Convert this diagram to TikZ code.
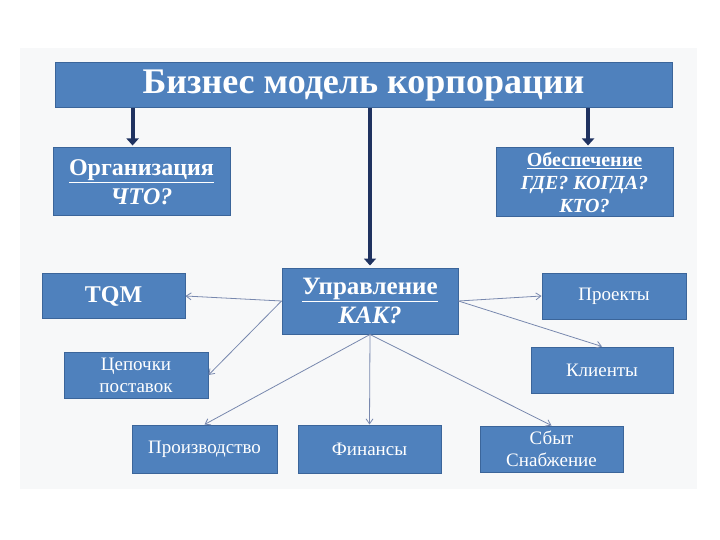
\documentclass[tikz,border=0pt]{standalone}
\usepackage{fontspec}
\setmainfont{Liberation Serif}
\usetikzlibrary{arrows.meta,calc}
\definecolor{boxblue}{HTML}{4F81BD}
\definecolor{boxedge}{HTML}{3B659A}
\definecolor{navy}{HTML}{1F3260}
\definecolor{thinarrow}{HTML}{7888AE}
\definecolor{bgpanel}{HTML}{F7F8F9}
\tikzset{
  bluebox/.style={draw=boxedge, line width=1pt, fill=boxblue, text=white, align=center, inner sep=1pt},
  smalltext/.style={font=\fontsize{19}{22}\selectfont},
  bigarrow/.style={draw=navy, line width=4pt, -{Triangle[length=7pt,width=12pt]}},
  smallarrow/.style={draw=thinarrow, line width=0.8pt, -{Straight Barb[length=5pt,width=7pt]}}
}
\begin{document}
\begin{tikzpicture}[x=1pt,y=-1pt]
\useasboundingbox (0,0) rectangle (720,540);
\fill[white] (0,0) rectangle (720,540);
\fill[bgpanel] (20,48) rectangle (697,489);

\node[bluebox, minimum width=617pt, minimum height=45pt,
  font=\fontsize{36}{38}\selectfont\bfseries] (title) at (363.5,85.5)
  {\raisebox{-4pt}{Бизнес модель корпорации}};

\node[bluebox, minimum width=177pt, minimum height=68pt,
  font=\fontsize{24}{29}\selectfont\bfseries] (org) at (141.5,182)
  {\underline{Организация}\\ \textit{ЧТО?}};

\node[bluebox, minimum width=177pt, minimum height=69pt,
  font=\fontsize{20}{23}\selectfont\bfseries] (obesp) at (584.5,182.5)
  {\underline{Обеспечение}\\ \textit{ГДЕ? КОГДА?}\\ \textit{КТО?}};

\node[bluebox, minimum width=143pt, minimum height=45pt,
  font=\fontsize{24}{28}\selectfont\bfseries] (tqm) at (113.5,296)
  {TQM};

\node[bluebox, minimum width=176pt, minimum height=66pt,
  font=\fontsize{25}{29}\selectfont\bfseries] (upr) at (370,301)
  {\underline{Управление}\\ \textit{КАК?}};

\node[bluebox, smalltext, minimum width=144pt, minimum height=46pt] (proj) at (614,296)
  {Проекты};

\node[bluebox, smalltext, minimum width=144pt, minimum height=46pt] (chain) at (136,375)
  {Цепочки\\ поставок};

\node[bluebox, smalltext, minimum width=142pt, minimum height=46pt] (client) at (602,370)
  {Клиенты};

\node[bluebox, smalltext, minimum width=145pt, minimum height=48pt] (prod) at (204.5,449)
  {Производство};

\node[bluebox, smalltext, minimum width=143pt, minimum height=48pt] (fin) at (369.5,449)
  {Финансы};

\node[bluebox, smalltext, minimum width=143pt, minimum height=46pt] (sale) at (551.5,449)
  {Сбыт\\ Снабжение};

% thick arrows
\coordinate (orgtop) at ($(org.north west)!0.45!(org.north east)$);
\draw[bigarrow, shorten >=2pt] (title.south -| orgtop) -- (orgtop);
\draw[bigarrow, shorten >=2pt] (title.south -| upr.north) -- (upr.north);
\coordinate (obtop) at ($(obesp.north west)!0.52!(obesp.north east)$);
\draw[bigarrow, shorten >=2pt] (title.south -| obtop) -- (obtop);

% thin arrows
\draw[smallarrow] (upr.west) -- (tqm.east);
\draw[smallarrow] (upr.west) -- (chain.east);
\draw[smallarrow] (upr.south) -- (prod.north);
\draw[smallarrow] (upr.south) -- (fin.north);
\draw[smallarrow] (upr.south) -- (sale.north);
\draw[smallarrow] (upr.east) -- (proj.west);
\draw[smallarrow] (upr.east) -- (client.north);
\end{tikzpicture}
\end{document}
